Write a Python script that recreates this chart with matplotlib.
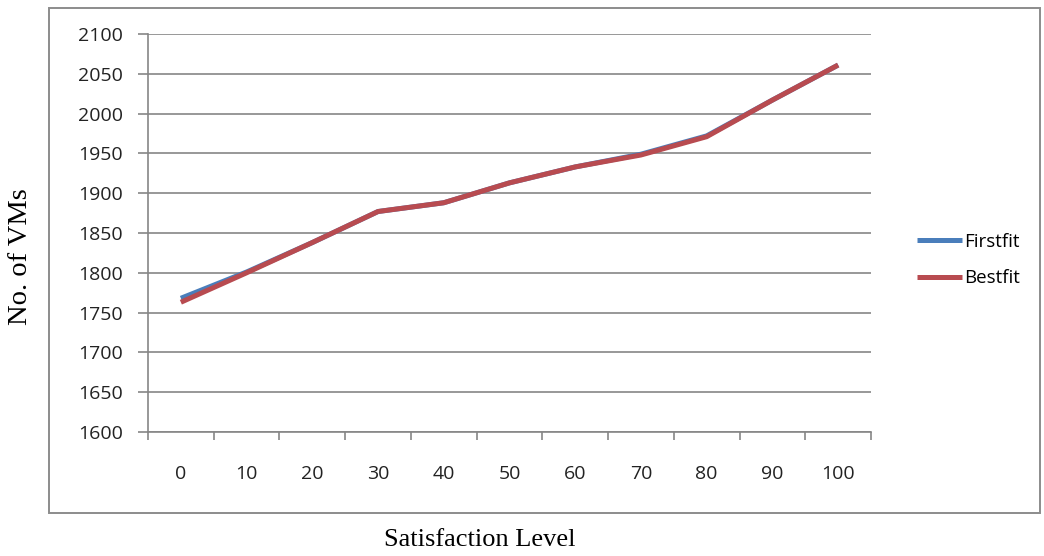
import matplotlib
matplotlib.use('Agg')
import matplotlib.pyplot as plt
from matplotlib.patches import Rectangle

# data
levels = [0, 10, 20, 30, 40, 50, 60, 70, 80, 90, 100]
firstfit = [1768, 1801, 1838, 1877, 1888, 1913, 1933, 1949, 1972, 2017, 2061]
bestfit = [1763, 1800, 1838, 1877, 1888, 1913, 1933, 1948, 1971, 2017, 2061]
yticks = list(range(1600, 2101, 50))

BLUE = '#4a7ebb'
RED = '#b84b50'
GRID = '#868686'
TICKFONT = 'Open Sans'

fig = plt.figure(figsize=(10.44, 5.56), dpi=100)
fig.patch.set_facecolor('white')

# outer chart border
fig.patches.append(Rectangle((49 / 1044, 1 - 513 / 556), (1040 - 49) / 1044,
                             (513 - 8) / 556, transform=fig.transFigure,
                             fill=False, edgecolor='#8c8c8c', lw=1.4))

ax = fig.add_axes([148 / 1044, 1 - 432 / 556, (871 - 148) / 1044, (432 - 34) / 556])
xpos = list(range(len(levels)))
ax.plot(xpos, firstfit, color=BLUE, lw=3.6, solid_capstyle='butt', label='Firstfit')
ax.plot(xpos, bestfit, color=RED, lw=3.6, solid_capstyle='butt', label='Bestfit')

ax.set_xlim(-0.5, len(levels) - 0.5)
ax.set_ylim(yticks[0], yticks[-1])
ax.set_yticks(yticks)
ax.set_yticklabels([str(v) for v in yticks], fontfamily=TICKFONT, fontsize=14,
                   color='#222222')
ax.yaxis.grid(True, color=GRID, lw=1.2)
ax.set_axisbelow(True)

ax.set_xticks(xpos)
ax.set_xticklabels([str(v) for v in levels], fontfamily=TICKFONT, fontsize=14,
                   color='#222222')
ax.set_xticks([i - 0.5 for i in range(len(levels) + 1)], minor=True)
ax.tick_params(axis='x', which='major', length=0, pad=24)
ax.tick_params(axis='x', which='minor', length=6, color=GRID, width=1.2,
               direction='out')
ax.tick_params(axis='y', length=7, color=GRID, width=1.2, pad=11)

for side in ['top', 'right']:
    ax.spines[side].set_visible(False)
for side in ['left', 'bottom']:
    ax.spines[side].set_color(GRID)
    ax.spines[side].set_linewidth(1.2)

fig.text(21 / 1044, 1 - 257 / 556, 'No. of VMs', rotation=90, ha='center',
         va='center', fontfamily='Liberation Serif', fontsize=20.5)
fig.text(480 / 1044, 1 - 540 / 556, 'Satisfaction Level', ha='center',
         va='center', fontfamily='Liberation Serif', fontsize=19)

fig.legend(loc='center left', bbox_to_anchor=(900 / 1044, 1 - 260 / 556),
           frameon=False, prop={'family': TICKFONT, 'size': 13.5},
           handlelength=2.4, handletextpad=0.1, labelspacing=1.0)

fig.savefig('out.png', dpi=100, facecolor='white')
